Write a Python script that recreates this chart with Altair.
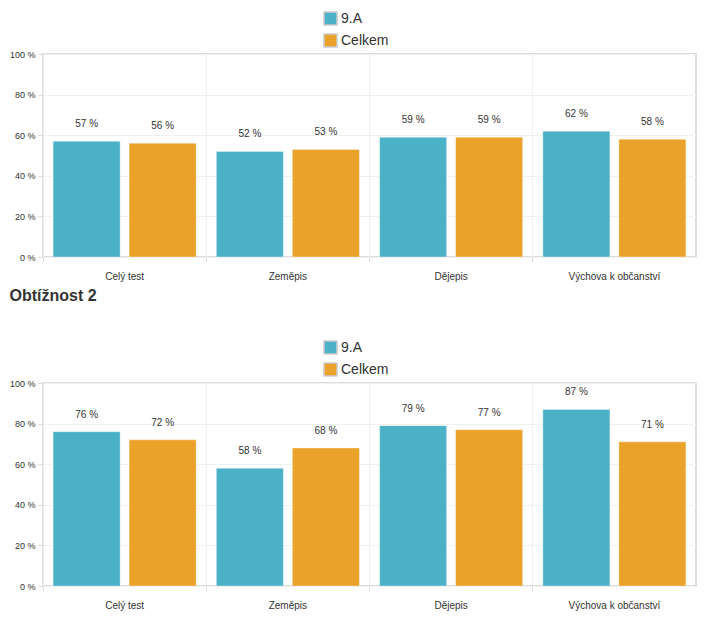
import altair as alt
import pandas as pd

categories = ["Celý test", "Zeměpis", "Dějepis", "Výchova k občanství"]
groups = ["9.A", "Celkem"]
values_class_1 = [57, 52, 59, 62]
values_total_1 = [56, 53, 59, 58]
values_class_2 = [76, 58, 79, 87]
values_total_2 = [72, 68, 77, 71]
colors = ["#4BB1C6", "#EAA22A"]
y_ticks = [0, 20, 40, 60, 80, 100]
second_title = "Obtížnost 2"

FONT = "Liberation Sans"


def make_df(a, b):
    rows = []
    for c, va, vb in zip(categories, a, b):
        rows.append({"kategorie": c, "skupina": groups[0], "hodnota": va})
        rows.append({"kategorie": c, "skupina": groups[1], "hodnota": vb})
    return pd.DataFrame(rows)


def panel(df, title=None):
    base = alt.Chart(df).transform_calculate(
        popis="datum.hodnota + ' %'"
    ).encode(
        x=alt.X(
            "kategorie:N",
            sort=categories,
            scale=alt.Scale(paddingInner=0, paddingOuter=0),
            axis=alt.Axis(
                title=None, labelAngle=0, bandPosition=0, grid=True,
                gridColor="#f0f0f0", gridWidth=1, tickColor="#dddddd", tickSize=5,
                labelFontSize=10, labelColor="#333333", labelPadding=9,
                domain=False, labelFont=FONT,
            ),
        ),
        xOffset=alt.XOffset(
            "skupina:N", sort=groups,
            scale=alt.Scale(paddingInner=0.118, paddingOuter=0.133),
        ),
        y=alt.Y(
            "hodnota:Q",
            scale=alt.Scale(domain=[0, 100], nice=False),
            axis=alt.Axis(
                values=y_ticks, labelExpr="datum.value + ' %'", title=None,
                grid=True, gridColor="#f0f0f0", gridWidth=1, tickColor="#dddddd",
                tickSize=5, labelFontSize=9, labelColor="#333333", labelPadding=3,
                domain=False, labelFont=FONT,
            ),
        ),
    )
    bars = base.mark_bar(stroke="#ffffff", strokeWidth=1, strokeOpacity=0.35).encode(
        color=alt.Color(
            "skupina:N",
            sort=groups,
            scale=alt.Scale(domain=groups, range=colors),
            legend=alt.Legend(
                orient="none", legendX=280, legendY=-43, title=None,
                direction="vertical", symbolType="square", symbolSize=169,
                symbolStrokeColor="#cccccc", symbolStrokeWidth=1.5,
                labelFontSize=14, labelColor="#333333", labelFont=FONT,
                rowPadding=3, labelOffset=3, padding=0,
            ),
        )
    )
    labels = base.mark_text(
        dy=-12, baseline="bottom", fontSize=10, color="#333333", font=FONT
    ).encode(text="popis:N")
    layer = alt.layer(bars, labels).properties(width=653, height=203)
    if title is not None:
        layer = layer.properties(
            title=alt.TitleParams(
                title, anchor="start", frame="bounds", fontSize=16, font=FONT,
                fontWeight="bold", color="#333333", offset=23,
                baseline="alphabetic",
            )
        )
    return layer


p1 = panel(make_df(values_class_1, values_total_1))
p2 = panel(make_df(values_class_2, values_total_2), second_title)

chart = alt.vconcat(p1, p2, spacing=5).resolve_legend(color="independent").properties(
    padding={"top": 2, "left": 0, "right": 0, "bottom": 0}
).configure_view(stroke="#dddddd", strokeWidth=2)

chart.save("out.html", embed_options={"renderer": "svg", "actions": False})
